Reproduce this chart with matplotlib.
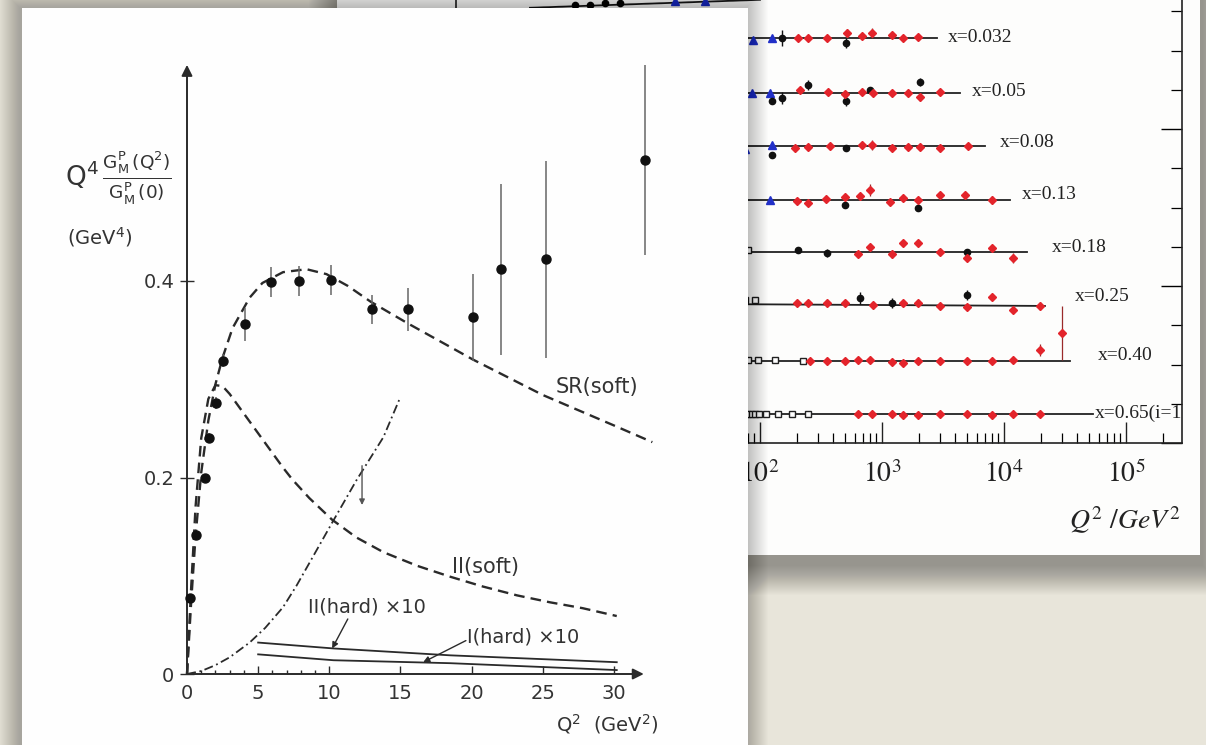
"""
Two overlapping 'slide photos' on a beige background:
back card  - F2 vs Q^2 at fixed x (log Q^2 axis, coloured data sets)
front card - Q^4 G_M^p(Q^2)/G_M^p(0) vs Q^2 with soft / hard model curves
"""

import matplotlib.pyplot as plt
from matplotlib.patches import Rectangle
from matplotlib.ticker import FixedLocator, LogLocator, MultipleLocator, NullFormatter

plt.rcParams.update({"mathtext.fontset": "stix", "font.family": "DejaVu Sans"})

W, H = 1206, 745

# ---------------------------------------------------------------------------
# back card data: rows of fixed x, F2 shifted by a constant per row
ROW_LABELS = ["x=0.032", "x=0.05", "x=0.08", "x=0.13", "x=0.18", "x=0.25", "x=0.40", "x=0.65(i=1)"]
ROW_LABEL_Q2 = [3475, 5470, 9270, 14060, 24710, 38200, 58900, 55700]
ROW_LABEL_F2 = [2.58, 2.236, 1.917, 1.58, 1.248, 0.93, 0.56, 0.19]

FIT_Q2_LO = [1.3, 1.0, 1.0, 1.0, 1.0, 1.0, 1.0, 1.0, 1.0]
FIT_Q2_HI = [100, 2825, 4357, 6986, 11200, 15440, 21680, 34750, 53700]
FIT_F2_LO = [2.772, 2.580, 2.229, 1.892, 1.548, 1.217, 0.892, 0.522, 0.185]
FIT_F2_HI = [2.823, 2.580, 2.229, 1.892, 1.548, 1.217, 0.873, 0.522, 0.185]

RED_Q2 = [205, 247, 354, 516, 685, 828, 1208, 1486, 1972,
          213, 361, 498, 685, 844, 1208, 1634, 2048, 2987,
          194, 247, 375, 685, 828, 1208, 1634, 2048, 2987, 5070,
          201, 247, 347, 498, 660, 797, 1163, 1486, 1972, 2987, 4788, 7979,
          636, 797, 1208, 1486, 1972, 2987, 4977, 7979, 11860,
          201, 247, 354, 498, 844, 1486, 1972, 2987, 4977, 7979, 11860, 19720,
          257, 354, 498, 636, 797, 1208, 1486, 1972, 2987, 4977, 7979, 11860, 19720, 29860,
          636, 828, 1208, 1486, 1972, 2987, 4977, 7979, 11860, 19720]
RED_F2 = [2.580, 2.580, 2.580, 2.611, 2.592, 2.611, 2.599, 2.580, 2.586,
          2.248, 2.236, 2.223, 2.236, 2.229, 2.229, 2.229, 2.204, 2.236,
          1.879, 1.885, 1.892, 1.898, 1.898, 1.879, 1.885, 1.885, 1.879, 1.892,
          1.541, 1.529, 1.554, 1.567, 1.573, 1.611, 1.535, 1.561, 1.548, 1.580, 1.580, 1.548,
          1.204, 1.248, 1.204, 1.274, 1.274, 1.217, 1.178, 1.242, 1.178,
          0.892, 0.892, 0.892, 0.892, 0.879, 0.892, 0.892, 0.873, 0.866, 0.930, 0.847, 0.873,
          0.522, 0.522, 0.522, 0.529, 0.529, 0.516, 0.510, 0.522, 0.522, 0.522, 0.522, 0.529, 0.592, 0.701,
          0.185, 0.185, 0.185, 0.178, 0.178, 0.185, 0.185, 0.178, 0.185, 0.185]
RED_ERR = [0.010, 0.010, 0.010, 0.025, 0.010, 0.032, 0.010, 0.010, 0.015,
           0.015, 0.010, 0.010, 0.010, 0.010, 0.010, 0.010, 0.025, 0.015,
           0.010, 0.010, 0.010, 0.015, 0.032, 0.010, 0.015, 0.015, 0.015, 0.019,
           0.010, 0.015, 0.010, 0.010, 0.010, 0.038, 0.010, 0.010, 0.015, 0.019, 0.019, 0.025,
           0.015, 0.010, 0.025, 0.010, 0.010, 0.010, 0.019, 0.015, 0.032,
           0.010, 0.010, 0.010, 0.010, 0.015, 0.010, 0.010, 0.010, 0.015, 0.019, 0.019, 0.025,
           0.010, 0.010, 0.010, 0.010, 0.010, 0.010, 0.015, 0.010, 0.010, 0.010, 0.010, 0.010, 0.038, 0.172,
           0.008, 0.008, 0.008, 0.008, 0.008, 0.008, 0.008, 0.008, 0.008, 0.008]

BLACK_Q2 = [3.05, 4.05, 5.4, 7.1,
            151, 507,
            125, 151, 247, 507, 797, 2048,
            125, 507,
            498, 1972,
            205, 354, 4977,
            660, 1208, 4977]
BLACK_F2 = [2.790, 2.790, 2.800, 2.800,
            2.580, 2.548,
            2.178, 2.197, 2.280, 2.178, 2.248, 2.299,
            1.834, 1.879,
            1.516, 1.497,
            1.229, 1.210, 1.217,
            0.924, 0.892, 0.943]
BLACK_ERR = [0.01, 0.01, 0.01, 0.01,
             0.051, 0.032,
             0.015, 0.038, 0.032, 0.032, 0.015, 0.025,
             0.020, 0.015,
             0.015, 0.019,
             0.019, 0.025, 0.015,
             0.038, 0.032, 0.032]

BLUE_Q2 = [20, 35.4, 88, 125, 86, 121, 75, 125, 121]
BLUE_F2 = [2.815, 2.815, 2.567, 2.580, 2.229, 2.229, 1.873, 1.898, 1.548]

OPEN_Q2 = [80, 75, 91, 80, 96, 133, 225, 75, 80, 86, 91, 98, 112, 140, 183, 247]
OPEN_F2 = [1.229, 0.911, 0.911, 0.529, 0.529, 0.529, 0.522,
           0.185, 0.185, 0.185, 0.185, 0.185, 0.185, 0.185, 0.185, 0.185]

BACK_XTICKS = [1, 10, 100, 1e3, 1e4, 1e5]
BACK_XTICKLABELS = ["$10^{0}$", "$10^{1}$", "$10^{2}$", "$10^{3}$", "$10^{4}$", "$10^{5}$"]

# ---------------------------------------------------------------------------
# front card data: proton magnetic form factor
FF_Q2 = [0.2, 0.6, 1.26, 1.55, 2.04, 2.5, 4.1, 5.9, 7.9, 10.1, 13.0, 15.5, 20.1, 22.1, 25.2, 32.2]
FF_VAL = [0.077, 0.141, 0.200, 0.240, 0.276, 0.319, 0.356, 0.399, 0.400, 0.401,
          0.371, 0.371, 0.363, 0.412, 0.422, 0.523]
FF_ERR = [0.004, 0.004, 0.004, 0.005, 0.006, 0.007, 0.017, 0.015, 0.015, 0.015,
          0.015, 0.022, 0.044, 0.087, 0.100, 0.097]

SR_Q2 = [0, 0.3, 0.6, 1.0, 1.5, 2.0, 2.5, 3.2, 4.4, 5.3, 6.75, 8.4, 9.8, 11.3, 12.9,
         15.5, 20.1, 25.0, 30.0, 32.7]
SR_VAL = [0, 0.075, 0.14, 0.205, 0.258, 0.295, 0.322, 0.352, 0.383, 0.398, 0.409, 0.412, 0.407,
          0.395, 0.379, 0.357, 0.320, 0.284, 0.253, 0.236]

II_SOFT_Q2 = [0, 0.3, 0.6, 1.0, 1.5, 2.0, 2.5, 3.0, 4.4, 5.1, 6.0, 6.75, 7.4, 8.6, 10.2,
              11.9, 13.8, 16.2, 18.5, 20.8, 23.2, 25.5, 27.8, 30.2]
II_SOFT_VAL = [0, 0.09, 0.17, 0.24, 0.28, 0.294, 0.293, 0.285, 0.257, 0.243, 0.225, 0.210,
               0.198, 0.179, 0.157, 0.139, 0.124, 0.110, 0.099, 0.089, 0.080, 0.073, 0.067, 0.059]

DASHDOT_Q2 = [0, 1.0, 2.0, 3.0, 4.4, 5.5, 6.75, 7.7, 8.6, 10.2, 11.9, 13.8, 15.0]
DASHDOT_VAL = [0, 0.003, 0.009, 0.017, 0.032, 0.047, 0.068, 0.090, 0.113, 0.154, 0.197,
               0.241, 0.282]

HARD_Q2 = [5.0, 10.3, 18.5, 30.2]
II_HARD_VAL = [0.032, 0.026, 0.019, 0.012]
I_HARD_VAL = [0.020, 0.014, 0.011, 0.004]

FRONT_XTICKS = [0, 5, 10, 15, 20, 25, 30]
FRONT_YTICKS = [0, 0.2, 0.4]
FRONT_YTICKLABELS = ["0", "0.2", "0.4"]

INK = "#2a2a2a"
RED = "#e3242b"
BLUE = "#2230c8"


def frac(px_x0, px_x1, px_y0, px_y1):
    """pixel box -> figure fraction rect"""
    return [px_x0 / W, (H - px_y1) / H, (px_x1 - px_x0) / W, (px_y1 - px_y0) / H]


def soft_shadow(ax, x, y, w, h, n, a, dx=0, dy=0):
    for i in range(n, 0, -1):
        ax.add_patch(Rectangle((x + dx - i, y + dy - i), w + 2 * i, h + 2 * i,
                               facecolor="black", alpha=a, lw=0, zorder=1))


fig = plt.figure(figsize=(W / 100, H / 100), dpi=100)

# ---- background + back card ------------------------------------------------
bg = fig.add_axes([0, 0, 1, 1], zorder=0)
bg.set_xlim(0, W)
bg.set_ylim(H, 0)
bg.axis("off")
bg.add_patch(Rectangle((0, 0), W, H, facecolor="#e8e5da", lw=0, zorder=0))
soft_shadow(bg, 337, -80, 863, 635, 30, 0.011, dx=2, dy=10)
bg.add_patch(Rectangle((337, -80), 863, 635, facecolor="#fdfdfc", lw=0, zorder=2))

# ---- back plot ---------------------------------------------------------------
ax2 = fig.add_axes(frac(456, 1182, 443 - 3.2 * 157, 443), zorder=1)
ax2.patch.set_visible(False)
ax2.set_xscale("log")
ax2.set_xlim(0.322, 2.88e5)
ax2.set_ylim(0, 3.2)

for q_lo, q_hi, f_lo, f_hi in zip(FIT_Q2_LO, FIT_Q2_HI, FIT_F2_LO, FIT_F2_HI):
    ax2.plot([q_lo, q_hi], [f_lo, f_hi], color="#222222", lw=1.3, zorder=2)

ax2.errorbar(OPEN_Q2, OPEN_F2, fmt="s", ms=4.5, mfc="white", mec="#222222", mew=1.0,
             ecolor="#222222", zorder=3)
ax2.errorbar(BLUE_Q2, BLUE_F2, fmt="^", ms=5.5, color=BLUE, zorder=3)
ax2.errorbar(BLACK_Q2, BLACK_F2, yerr=BLACK_ERR, fmt="o", ms=4.5, color="#111111",
             elinewidth=1.0, capsize=0, zorder=4)
ax2.errorbar(RED_Q2, RED_F2, yerr=RED_ERR, fmt="D", ms=4.0, color=RED,
             ecolor="#9a2a2a", elinewidth=0.9, capsize=0, zorder=5)

for lab, q, f in zip(ROW_LABELS, ROW_LABEL_Q2, ROW_LABEL_F2):
    ax2.text(q, f, lab, fontsize=14, family="Liberation Serif", color="#222222",
             va="center", ha="left", clip_on=True)

ax2.xaxis.set_major_locator(FixedLocator(BACK_XTICKS))
ax2.set_xticklabels(BACK_XTICKLABELS)
ax2.xaxis.set_minor_locator(LogLocator(base=10, subs=range(2, 10), numticks=20))
ax2.xaxis.set_minor_formatter(NullFormatter())
ax2.tick_params(axis="x", which="major", direction="in", length=15, width=1.0, pad=12,
                labelsize=20, colors="#222222")
ax2.tick_params(axis="x", which="minor", direction="in", length=7, width=0.9)
ax2.yaxis.set_major_locator(MultipleLocator(1))
ax2.yaxis.set_minor_locator(MultipleLocator(0.25))
ax2.tick_params(axis="y", which="both", direction="in", left=False, right=True,
                labelleft=False, labelright=False)
ax2.tick_params(axis="y", which="major", length=15, width=1.0)
ax2.tick_params(axis="y", which="minor", length=8, width=0.9)
for sp in ax2.spines.values():
    sp.set_color("#222222")
    sp.set_linewidth(1.2)
ax2.text(0.921, -0.153, r"$Q^2\ /GeV^2$", transform=ax2.transAxes, fontsize=20,
         ha="center", va="center", color="#222222")

# ---- front card ------------------------------------------------------------
card = fig.add_axes([0, 0, 1, 1], zorder=2)
card.patch.set_visible(False)
card.set_xlim(0, W)
card.set_ylim(H, 0)
card.axis("off")
soft_shadow(card, 22, 8, 726, 800, 22, 0.011, dx=-2, dy=0)
card.add_patch(Rectangle((22, 8), 726, 800, facecolor="#fefefe", lw=0, zorder=2))

card.text(118, 178,
          r"$\mathrm{Q}^4\,\frac{\mathrm{G}_\mathrm{M}^\mathrm{P}\,(\mathrm{Q}^2)}"
          r"{\mathrm{G}_\mathrm{M}^\mathrm{P}\,(0)}$",
          fontsize=19, ha="center", va="center", color="#333333",
          math_fontfamily="dejavusans", zorder=3)
card.text(100, 237, r"(GeV$^4$)", fontsize=14, ha="center", va="center",
          color="#333333", math_fontfamily="dejavusans", zorder=3)
card.text(607, 724, r"Q$^2$  (GeV$^2$)", fontsize=14, ha="center", va="center",
          color="#333333", math_fontfamily="dejavusans", zorder=3)

# ---- front plot ------------------------------------------------------------
ax = fig.add_axes(frac(187, 660, 40, 674), zorder=3)
ax.patch.set_visible(False)
ax.set_xlim(0, 473 / 14.23)
ax.set_ylim(0, 634 / 982.5)
for sp in ax.spines.values():
    sp.set_visible(False)

ax.annotate("", xy=(0, 0.62), xytext=(0, 0),
            arrowprops=dict(arrowstyle="-|>", lw=1.4, color=INK, mutation_scale=16,
                            shrinkA=0, shrinkB=0))
ax.annotate("", xy=(32.1, 0), xytext=(0, 0),
            arrowprops=dict(arrowstyle="-|>", lw=1.4, color=INK, mutation_scale=16,
                            shrinkA=0, shrinkB=0))

ax.plot(SR_Q2, SR_VAL, color=INK, lw=1.7, dashes=(4.5, 2.6), clip_on=False)
ax.plot(II_SOFT_Q2, II_SOFT_VAL, color=INK, lw=1.7, dashes=(4.5, 2.6), clip_on=False)
ax.plot(DASHDOT_Q2, DASHDOT_VAL, color=INK, lw=1.3, dashes=(5, 2, 1, 2), clip_on=False)
ax.plot(HARD_Q2, II_HARD_VAL, color=INK, lw=1.3)
ax.plot(HARD_Q2, I_HARD_VAL, color=INK, lw=1.3)

ax.errorbar(FF_Q2, FF_VAL, yerr=FF_ERR, fmt="o", ms=6.5, color="#111111",
            ecolor="#666666", elinewidth=1.1, capsize=0, clip_on=False, zorder=4)

# upper-limit arrow near Q2 ~ 12
ax.annotate("", xy=(12.3, 0.172), xytext=(12.3, 0.212),
            arrowprops=dict(arrowstyle="-|>", lw=1.0, color="#555555", mutation_scale=8,
                            shrinkA=0, shrinkB=0))

txt = dict(fontsize=15, color="#333333", va="center", ha="left")
ax.text(25.9, 0.292, "SR(soft)", **txt)
ax.text(18.6, 0.109, "II(soft)", **txt)
ax.text(8.5, 0.068, "II(hard) ×10", fontsize=14, color="#333333", va="center", ha="left")
ax.text(19.7, 0.038, "I(hard) ×10", fontsize=14, color="#333333", va="center", ha="left")
ax.annotate("", xy=(10.2, 0.026), xytext=(11.3, 0.056),
            arrowprops=dict(arrowstyle="-|>", lw=1.0, color=INK, mutation_scale=9,
                            shrinkA=0, shrinkB=0))
ax.annotate("", xy=(16.6, 0.012), xytext=(19.6, 0.034),
            arrowprops=dict(arrowstyle="-|>", lw=1.0, color=INK, mutation_scale=9,
                            shrinkA=0, shrinkB=0))

ax.set_xticks(FRONT_XTICKS)
ax.set_xticks(range(1, 10), minor=True)
ax.set_yticks(FRONT_YTICKS)
ax.set_yticklabels(FRONT_YTICKLABELS)
ax.tick_params(axis="x", which="major", direction="in", length=6, width=1.0, pad=7,
               labelsize=14, colors=INK, labelcolor="#333333")
ax.tick_params(axis="x", which="minor", direction="in", length=3, width=1.0, colors=INK)
ax.tick_params(axis="y", which="major", direction="inout", length=10, width=1.0, pad=4,
               labelsize=14, colors=INK, labelcolor="#333333")

fig.savefig("out.png", dpi=100)
